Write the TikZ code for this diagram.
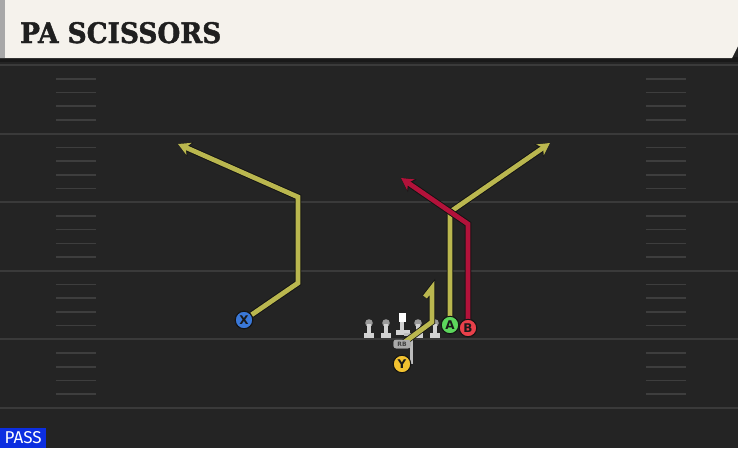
\documentclass[tikz,border=0pt]{standalone}
\usepackage{fontspec}
\usepackage{graphicx}
\setmainfont{DejaVu Serif}
\newfontfamily\titlefont[BoldFeatures={FakeBold=1.6}]{DejaVu Serif}
\newfontfamily\badgefont{Fira Sans}
\newfontfamily\playerfont{DejaVu Sans}
\usetikzlibrary{arrows.meta}
\definecolor{fieldbg}{HTML}{242424}
\definecolor{fieldline}{HTML}{3A3A3A}
\definecolor{hashc}{HTML}{3E3E3E}
\definecolor{headerbg}{HTML}{F5F2EC}
\definecolor{headerstrip}{HTML}{A8A8A8}
\definecolor{olivec}{HTML}{BAB74F}
\definecolor{redc}{HTML}{B3123A}
\definecolor{outlinec}{HTML}{141414}
\definecolor{bluep}{HTML}{3A78D8}
\definecolor{greenp}{HTML}{5CD65C}
\definecolor{redp}{HTML}{E8404A}
\definecolor{yellowp}{HTML}{F2C230}
\definecolor{passblue}{HTML}{0C2EE0}
\definecolor{linegray}{HTML}{D2D2D2}
\definecolor{headgray}{HTML}{9A9A9A}
\begin{document}
\begin{tikzpicture}[x=1pt,y=-1pt,
  player/.style={circle,minimum size=17.5pt,inner sep=0pt,draw=outlinec,line width=1pt,
    font=\playerfont\bfseries\fontsize{12}{12}\selectfont,text=black!90},
  rbbox/.style={fill=headgray!85,rounded corners=2.5pt,minimum width=17pt,minimum height=8.5pt,inner sep=0pt,
    font=\playerfont\bfseries\fontsize{6}{6}\selectfont,text=black!75},
  route/.style={line width=4.8pt,draw=olivec,line join=miter,
    preaction={draw=outlinec,line width=6.4pt}},
  arrowroute/.style={route,-{Stealth[length=12pt,width=13pt,inset=3.5pt]},
    preaction={draw=outlinec,line width=6.4pt,-{Stealth[length=13.5pt,width=15pt,inset=4pt]}}},
  redroute/.style={arrowroute,draw=redc},
  hash/.style={draw=hashc,line width=1.6pt},
  yardline/.style={draw=fieldline,line width=2pt},
  lnbase/.style={fill=linegray},
]
\useasboundingbox (0,0) rectangle (738,448);
% field
\fill[fieldbg] (0,0) rectangle (738,448);
% yard lines
\foreach \yy in {65,133.6,202.2,270.8,339.4,408} {
  \draw[yardline] (0,\yy) -- (738,\yy);
}
% hash marks
\foreach \yy in {65,133.6,202.2,270.8,339.4} {
  \foreach \k in {1,2,3,4} {
    \draw[hash] (56,\yy+13.7*\k) -- (96,\yy+13.7*\k);
    \draw[hash] (646,\yy+13.7*\k) -- (686,\yy+13.7*\k);
  }
}
% header
\fill[black!90] (0,57) rectangle (738,62);
\fill[headerbg] (0,0) -- (738,0) -- (738,46) -- (732,58) -- (0,58) -- cycle;
\fill[headerstrip] (0,0) rectangle (5,58);
\node[anchor=base west,inner sep=0pt,text=black!88] (title) at (20,43)
  {\resizebox{201pt}{21pt}{\titlefont\bfseries PA SCISSORS}};
% PASS badge
\node[anchor=south west,fill=passblue,minimum width=46pt,minimum height=20pt,inner sep=0pt,
  text=white] (pass) at (0,448) {\resizebox{37pt}{12pt}{\badgefont PASS}};

% players
\node[player,fill=bluep] (X) at (244,320) {X};
\node[player,fill=greenp] (A) at (450,325) {A};
\node[player,fill=redp] (B) at (468,328) {B};
\node[player,fill=yellowp] (Y) at (402,364) {Y};
\node[rbbox] (RB) at (402,344) {RB};

% route coordinates
\coordinate (x1) at (298,283);
\coordinate (x2) at (298,197);
\coordinate (x3) at (178,144);
\coordinate (a1) at (450,212);
\coordinate (a2) at (550,143);
\coordinate (b1) at (468,224);
\coordinate (b2) at (401,178);
\coordinate (q1) at (432,322);
\coordinate (q2) at (432,288);
\coordinate (q3) at (425,297);
\coordinate (y1) at (411,334);
\coordinate (y2) at (404,334);

% linemen
\foreach \lx in {369,386,418,435} {
  \fill[headgray] (\lx,323) circle (3.8);
  \fill[linegray] (\lx-1.8,324) rectangle (\lx+1.8,334);
  \fill[lnbase] (\lx-4.8,333) rectangle (\lx+4.8,338);
}
\fill[white] (398.5,313) rectangle (405.5,322);
\fill[linegray] (400.2,322) rectangle (403.8,332);
\fill[lnbase] (396,330) rectangle (410,334.5);

% gray Y line
\draw[draw=linegray!90!black,line width=3pt] ([xshift=9pt]Y.center) -- (y1) -- (y2);

% routes
\draw[arrowroute] (X) -- (x1) -- (x2) -- (x3);
\draw[route] (RB.center) -- (q1) -- (q2) -- (q3);
\draw[arrowroute] (A.center) -- (a1) -- (a2);
\draw[redroute] (B.center) -- (b1) -- (b2);

% redraw players on top
\node[player,fill=bluep] at (X) {X};
\node[player,fill=greenp] at (A) {A};
\node[player,fill=redp] at (B) {B};
\node[player,fill=yellowp] at (Y) {Y};
\node[rbbox] at (RB) {RB};
\end{tikzpicture}
\end{document}
